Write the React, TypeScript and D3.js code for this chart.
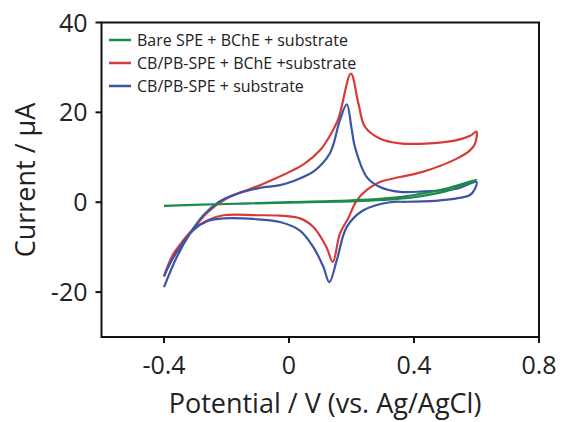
import React from "react";
import * as d3 from "d3";

const xTicks = [-0.4, 0, 0.4, 0.8];
const yTicks = [-20, 0, 20, 40];
const seriesNames = [
  "Bare SPE + BChE + substrate",
  "CB/PB-SPE + BChE +substrate",
  "CB/PB-SPE + substrate",
];
const seriesColors = ["#1b8a4c", "#d83a3a", "#3b54a3"];

// Bare SPE + BChE + substrate (path order: forward then return)
const greenV = [-0.4, -0.2, 0, 0.2, 0.3, 0.4, 0.5, 0.6, 0.55, 0.5, 0.4, 0.3, 0.2, 0, -0.2, -0.4];
const greenI = [-0.8, -0.4, 0, 0.4, 0.8, 1.6, 3.0, 5.0, 3.6, 2.4, 1.1, 0.5, 0.2, -0.1, -0.4, -0.8];

// CB/PB-SPE + BChE +substrate
const redV = [-0.4, -0.37, -0.317, -0.26, -0.2, -0.15, -0.1, -0.05, 0.0, 0.05, 0.1, 0.131, 0.158, 0.198, 0.222, 0.243, 0.29, 0.355, 0.45, 0.53, 0.58, 0.6,
  0.595, 0.58, 0.537, 0.43, 0.355, 0.291, 0.25, 0.217, 0.19, 0.163, 0.14, 0.12, 0.078, 0.035, -0.029, -0.1, -0.21, -0.26, -0.306, -0.349, -0.381, -0.4];
const redI = [-16.5, -11.5, -6.8, -2.2, 0.8, 2.3, 3.6, 5.1, 6.7, 8.6, 11.6, 14.8, 18.6, 28.6, 22.0, 16.8, 14.2, 13.1, 13.1, 13.7, 14.8, 15.7,
  13.0, 11.6, 9.7, 6.8, 5.6, 4.5, 2.8, 0.4, -3.5, -7.0, -13.3, -10.0, -5.5, -3.6, -3.0, -2.9, -2.9, -4.0, -6.0, -9.5, -13.2, -16.5];

// CB/PB-SPE + substrate
const blueV = [-0.4, -0.359, -0.317, -0.274, -0.226, -0.178, -0.093, -0.029, 0.035, 0.078, 0.131, 0.163, 0.185, 0.2, 0.211, 0.249, 0.291, 0.355, 0.43, 0.537, 0.6,
  0.595, 0.579, 0.483, 0.377, 0.323, 0.238, 0.185, 0.153, 0.129, 0.11, 0.078, 0.035, -0.029, -0.1, -0.21, -0.26, -0.306, -0.349, -0.381, -0.4];
const blueI = [-18.9, -12.2, -7.0, -2.9, 0, 1.6, 3.2, 3.8, 5.3, 6.8, 10.9, 18.3, 21.8, 16.5, 12.3, 5.6, 3.4, 2.3, 2.4, 3.0, 4.5,
  3.0, 1.6, 0.4, 0.1, 0.0, -1.8, -5.5, -12.9, -17.8, -14.4, -10.0, -6.3, -4.4, -3.8, -3.6, -4.2, -6.2, -10.0, -13.7, -16.5];

const W = 561;
const H = 422;
const M = { left: 101.5, right: 539, top: 22.5, bottom: 337 };
const FONT = "'Open Sans', 'DejaVu Sans', sans-serif";

export default function App() {
  const x = d3.scaleLinear().domain([-0.6, 0.8]).range([M.left, M.right]);
  const y = d3.scaleLinear().domain([-30, 40]).range([M.bottom, M.top]);
  const line = d3
    .line<[number, number]>()
    .x((d) => x(d[0]))
    .y((d) => y(d[1]))
    .curve(d3.curveCatmullRom.alpha(0.5));

  const series = [
    { v: redV, i: redI, c: seriesColors[1] },
    { v: blueV, i: blueI, c: seriesColors[2] },
    { v: greenV, i: greenI, c: seriesColors[0] },
  ];

  return (
    <svg
      width={W}
      height={H}
      style={{ position: "absolute", left: 0, top: 0, background: "#fff" }}
      fontFamily={FONT}
    >
      <rect x={0} y={0} width={W} height={H} fill="#fff" />
      {series.map((s, k) => (
        <path
          key={k}
          d={line(s.v.map((v, j) => [v, s.i[j]] as [number, number])) || ""}
          fill="none"
          stroke={s.c}
          strokeWidth={2.2}
          strokeLinejoin="round"
        />
      ))}
      <rect
        x={M.left}
        y={M.top}
        width={M.right - M.left}
        height={M.bottom - M.top}
        fill="none"
        stroke="#111"
        strokeWidth={2}
      />
      {xTicks.map((t) => (
        <g key={"x" + t}>
          <line x1={x(t)} x2={x(t)} y1={M.bottom} y2={M.bottom + 6} stroke="#111" strokeWidth={2} />
          <text x={x(t)} y={M.bottom + 37} textAnchor="middle" fontSize={25} fill="#222">
            {t === 0 ? "0" : String(t)}
          </text>
        </g>
      ))}
      {yTicks.map((t) => (
        <g key={"y" + t}>
          <line x1={M.left - 6} x2={M.left} y1={y(t)} y2={y(t)} stroke="#111" strokeWidth={2} />
          <text x={M.left - 14} y={y(t)} dy="0.36em" textAnchor="end" fontSize={25} fill="#222">
            {String(t)}
          </text>
        </g>
      ))}
      <text x={325} y={413} textAnchor="middle" fontSize={27} fill="#222">
        Potential / V (vs. Ag/AgCl)
      </text>
      <text
        transform={`translate(35, 180) rotate(-90)`}
        textAnchor="middle"
        fontSize={27}
        fill="#222"
      >
        Current / μA
      </text>
      {seriesNames.map((n, k) => (
        <g key={n}>
          <line x1={109} x2={131} y1={40 + k * 23} y2={40 + k * 23} stroke={seriesColors[k]} strokeWidth={2.5} />
          <text x={137} y={40 + k * 23} dy="0.35em" fontSize={16} fill="#222">
            {n}
          </text>
        </g>
      ))}
    </svg>
  );
}
